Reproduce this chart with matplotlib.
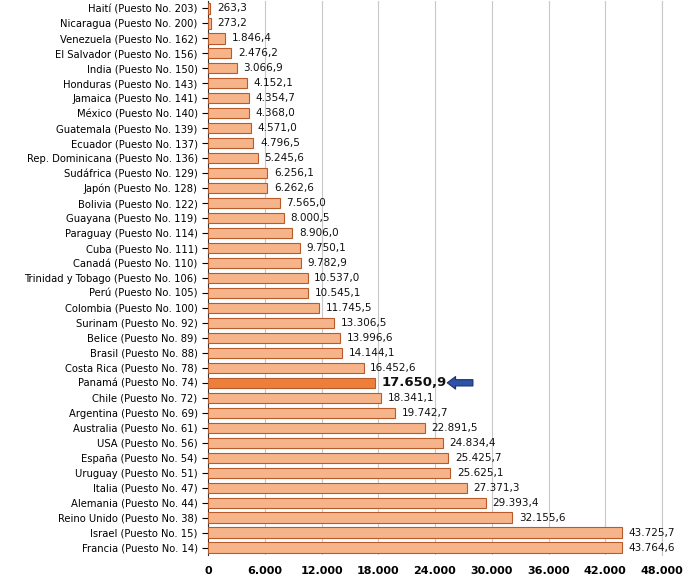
import matplotlib.pyplot as plt
from matplotlib.ticker import FuncFormatter

paises = ['Haití (Puesto No. 203)', 'Nicaragua (Puesto No. 200)', 'Venezuela (Puesto No. 162)',
          'El Salvador (Puesto No. 156)', 'India (Puesto No. 150)', 'Honduras (Puesto No. 143)',
          'Jamaica (Puesto No. 141)', 'México (Puesto No. 140)', 'Guatemala (Puesto No. 139)',
          'Ecuador (Puesto No. 137)', 'Rep. Dominicana (Puesto No. 136)', 'Sudáfrica (Puesto No. 129)',
          'Japón (Puesto No. 128)', 'Bolivia (Puesto No. 122)', 'Guayana (Puesto No. 119)',
          'Paraguay (Puesto No. 114)', 'Cuba (Puesto No. 111)', 'Canadá (Puesto No. 110)',
          'Trinidad y Tobago (Puesto No. 106)', 'Perú (Puesto No. 105)', 'Colombia (Puesto No. 100)',
          'Surinam (Puesto No. 92)', 'Belice (Puesto No. 89)', 'Brasil (Puesto No. 88)',
          'Costa Rica (Puesto No. 78)', 'Panamá (Puesto No. 74)', 'Chile (Puesto No. 72)',
          'Argentina (Puesto No. 69)', 'Australia (Puesto No. 61)', 'USA (Puesto No. 56)',
          'España (Puesto No. 54)', 'Uruguay (Puesto No. 51)', 'Italia (Puesto No. 47)',
          'Alemania (Puesto No. 44)', 'Reino Unido (Puesto No. 38)', 'Israel (Puesto No. 15)',
          'Francia (Puesto No. 14)']
valores = [263.3, 273.2, 1846.4, 2476.2, 3066.9, 4152.1, 4354.7, 4368.0, 4571.0, 4796.5,
           5245.6, 6256.1, 6262.6, 7565.0, 8000.5, 8906.0, 9750.1, 9782.9, 10537.0, 10545.1,
           11745.5, 13306.5, 13996.6, 14144.1, 16452.6, 17650.9, 18341.1, 19742.7, 22891.5,
           24834.4, 25425.7, 25625.1, 27371.3, 29393.4, 32155.6, 43725.7, 43764.6]
destacado = 'Panamá (Puesto No. 74)'


def fmt_es(v, dec=1):
    s = f'{v:,.{dec}f}'
    return s.replace(',', 'X').replace('.', ',').replace('X', '.')


fig = plt.figure(figsize=(6.84, 5.84), dpi=100)
ax = fig.add_axes([208 / 684, 29 / 584, 454 / 684, 554 / 584])

y = list(range(len(paises)))
colores = ['#ee7f3a' if p == destacado else '#f6b48a' for p in paises]
ax.barh(y, valores, height=0.68, color=colores, edgecolor='#b85a2a', linewidth=0.8, zorder=3)

for yi, v, p in zip(y, valores, paises):
    if p == destacado:
        ax.text(v + 700, yi, fmt_es(v), va='center', fontsize=9.5, fontweight='bold', color='#111')
        ax.annotate('', xy=(25000, yi), xytext=(28300, yi),
                    arrowprops=dict(arrowstyle='simple,head_width=0.9,head_length=0.6,tail_width=0.45',
                                    fc='#2f52a8', ec='#1b2f6a', lw=0.8))
    else:
        ax.text(v + 700, yi, fmt_es(v), va='center', fontsize=7.5, color='#111')

ax.set_ylim(len(paises) - 0.5, -0.5)
ax.set_yticks(y)
ax.set_yticklabels(paises, fontsize=7.2)
ax.set_xlim(0, 48000)
ax.set_xticks(range(0, 48001, 6000))
ax.xaxis.set_major_formatter(FuncFormatter(lambda v, _: fmt_es(v, 0)))
ax.tick_params(axis='x', labelsize=8, length=0, pad=8)
for t in ax.get_xticklabels():
    t.set_fontweight('bold')
ax.tick_params(axis='y', length=4)
ax.grid(axis='x', color='#c8c8c8', linewidth=0.8, zorder=0)
for s in ['top', 'bottom']:
    ax.spines[s].set_visible(False)
ax.spines['right'].set_color('#c8c8c8')
ax.spines['left'].set_color('#333')

fig.savefig('out.png', dpi=100)
